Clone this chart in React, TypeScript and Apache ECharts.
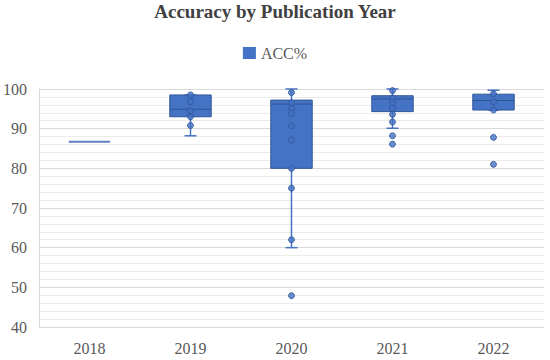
import React, { useEffect, useRef } from "react";
import * as echarts from "echarts";

const years = ["2018", "2019", "2020", "2021", "2022"];
// [lower whisker, Q1, median, Q3, upper whisker]
const stats2018 = [86.7, 86.7, 86.7, 86.7, 86.7];
const stats2019 = [88.2, 93.0, 94.9, 98.5, 98.5];
const stats2020 = [60.0, 80.0, 96.2, 97.2, 100.0];
const stats2021 = [90.1, 94.3, 97.5, 98.3, 100.0];
const stats2022 = [94.7, 94.7, 97.1, 98.7, 99.7];

const points2018: number[] = [];
const points2019 = [98.5, 96.8, 94.5, 93.0, 90.8];
const points2020 = [99.1, 96.5, 95.1, 93.9, 90.7, 87.1, 80.0, 75.0, 62.0, 47.9];
const points2021 = [99.6, 97.7, 96.5, 95.1, 93.6, 91.7, 88.2, 86.1];
const points2022 = [98.8, 96.8, 94.7, 87.8, 81.0];

const yTicks = [40, 50, 60, 70, 80, 90, 100];

const allStats = [stats2018, stats2019, stats2020, stats2021, stats2022];
const allPoints = [points2018, points2019, points2020, points2021, points2022];

const BLUE = "#4472C4";
const DARK = "#2F5597";
const FONT = "serif";

export default function App() {
  const ref = useRef<HTMLDivElement>(null);
  useEffect(() => {
    if (!ref.current) return;
    const chart = echarts.init(ref.current, null, { renderer: "svg" });
    const boxData = allStats.map((s, i) => [i, ...s]);
    const scatterData: number[][] = [];
    allPoints.forEach((arr, i) => arr.forEach((v) => scatterData.push([i, v])));

    chart.setOption({
      animation: false,
      title: {
        text: "Accuracy by Publication Year",
        left: "center",
        top: -3,
        textStyle: { fontFamily: FONT, fontSize: 19, fontWeight: "bold", color: "#404040" },
      },
      legend: {
        top: 40,
        left: "center",
        data: [{ name: "ACC%", icon: "rect" }],
        itemWidth: 13,
        itemHeight: 12,
        itemGap: 6,
        textStyle: { fontFamily: FONT, fontSize: 16, color: "#595959" },
      },
      grid: { left: 34, right: 6, top: 89, bottom: 33, containLabel: false },
      xAxis: {
        type: "category",
        data: years,
        boundaryGap: true,
        axisLine: { show: false },
        axisTick: { show: false },
        axisLabel: { fontFamily: FONT, fontSize: 16, color: "#595959", margin: 13 },
        splitLine: { show: false },
      },
      yAxis: {
        type: "value",
        min: yTicks[0],
        max: yTicks[yTicks.length - 1],
        interval: 10,
        axisLine: { show: true, lineStyle: { color: "#d9d9d9" } },
        axisTick: { show: false },
        axisLabel: { fontFamily: FONT, fontSize: 16, color: "#595959", margin: 12 },
        splitLine: { show: true, lineStyle: { color: "#d9d9d9", width: 1 } },
        minorTick: { show: false, splitNumber: 5 },
        minorSplitLine: { show: true, lineStyle: { color: "#ebebeb", width: 1 } },
      },
      series: [
        {
          name: "ACC%",
          type: "custom",
          itemStyle: { color: BLUE },
          encode: { x: 0, y: [1, 2, 3, 4, 5] },
          data: boxData,
          renderItem: (params: any, api: any) => {
            const idx = api.value(0);
            const pMin = api.coord([idx, api.value(1)]);
            const pQ1 = api.coord([idx, api.value(2)]);
            const pMed = api.coord([idx, api.value(3)]);
            const pQ3 = api.coord([idx, api.value(4)]);
            const pMax = api.coord([idx, api.value(5)]);
            const band = api.size([1, 0])[0];
            const bw = band * 0.41;
            const cap = 12;
            const cx = pMed[0];
            const flat = api.value(2) === api.value(4);
            const children: any[] = [];
            if (!flat) {
              children.push(
                { type: "line", shape: { x1: cx, y1: pQ1[1], x2: cx, y2: pMin[1] }, style: { stroke: BLUE, lineWidth: 1.5 } },
                { type: "line", shape: { x1: cx, y1: pQ3[1], x2: cx, y2: pMax[1] }, style: { stroke: BLUE, lineWidth: 1.5 } },
                { type: "line", shape: { x1: cx - cap / 2, y1: pMin[1], x2: cx + cap / 2, y2: pMin[1] }, style: { stroke: BLUE, lineWidth: 1.5 } },
                { type: "line", shape: { x1: cx - cap / 2, y1: pMax[1], x2: cx + cap / 2, y2: pMax[1] }, style: { stroke: BLUE, lineWidth: 1.5 } },
                {
                  type: "rect",
                  shape: { x: cx - bw / 2, y: pQ3[1], width: bw, height: pQ1[1] - pQ3[1] },
                  style: { fill: BLUE, stroke: DARK, lineWidth: 1 },
                },
                { type: "line", shape: { x1: cx - bw / 2, y1: pMed[1], x2: cx + bw / 2, y2: pMed[1] }, style: { stroke: DARK, lineWidth: 1 } }
              );
            } else {
              children.push({
                type: "line",
                shape: { x1: cx - bw / 2, y1: pMed[1], x2: cx + bw / 2, y2: pMed[1] },
                style: { stroke: "#5B7FC0", lineWidth: 2 },
              });
            }
            return { type: "group", children };
          },
          z: 2,
        },
        {
          name: "points",
          type: "scatter",
          data: scatterData,
          symbol: "circle",
          symbolSize: 6,
          itemStyle: { color: BLUE, borderColor: DARK, borderWidth: 1 },
          z: 3,
        },
      ],
    });
    return () => chart.dispose();
  }, []);
  return (
    <div
      ref={ref}
      style={{ position: "fixed", left: 0, top: 0, width: 550, height: 360, background: "#fff" }}
    />
  );
}
